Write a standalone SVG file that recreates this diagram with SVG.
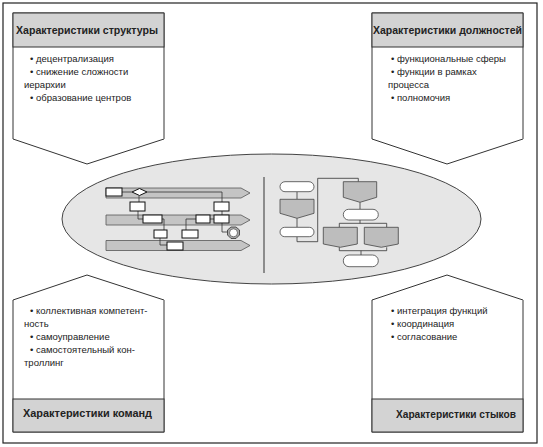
<svg xmlns="http://www.w3.org/2000/svg" width="543" height="447" viewBox="0 0 543 447">
<style>
.frame{fill:#fff;stroke:#222;stroke-width:1.2}
.box{fill:#fff;stroke:#333;stroke-width:1}
.edge{stroke:#9a9a9a;stroke-width:1.6;fill:none}
.hdr{fill:#d3d3d3;stroke:#333;stroke-width:1}
.ht{font-family:"Liberation Sans",Arial,sans-serif;font-weight:bold;font-size:10px;fill:#222}
.bt{font-family:"Liberation Sans",Arial,sans-serif;font-size:9.5px;fill:#222}
.ell{fill:#e6e6e6;stroke:#444;stroke-width:1}
.lane{fill:#c4c4c4;stroke:#555;stroke-width:0.8}
.sb{fill:#fff;stroke:#111;stroke-width:1}
.ln{fill:none;stroke:#333;stroke-width:0.8}
.rr{fill:#fff;stroke:#444;stroke-width:0.8}
.pg{fill:#bdbdbd;stroke:#444;stroke-width:0.8}
</style>
<rect class="frame" x="3" y="3" width="534" height="440"/>

<g id="center">
<ellipse class="ell" cx="271.5" cy="219" rx="209.5" ry="65"/>
<line x1="264" y1="177" x2="264" y2="273" stroke="#333" stroke-width="1"/>
<g id="swimlanes">
<polygon class="lane" points="106,188 241,188 250,193 241,198 106,198"/>
<polygon class="lane" points="106,215 241,215 250,220 241,225 106,225"/>
<polygon class="lane" points="106,240.5 241,240.5 250,245.5 241,250.5 106,250.5"/>
<g class="ln">
<path d="M122,192 H132"/>
<path d="M147,192 H222 V202"/>
<path d="M139,196 V202"/>
<path d="M138,211 V219 H143"/>
<path d="M162,219 H164 V230"/>
<path d="M160,238 V245 H167"/>
<path d="M222,211 V215"/>
<path d="M210,219 H214"/>
<path d="M222,223 V232 H228"/>
<path d="M186,230 V219 H196"/>
</g>
<rect class="sb" x="106" y="188" width="16" height="8"/>
<polygon class="sb" points="132,192 139.5,188.5 147,192 139.5,195.5"/>
<rect class="sb" x="130" y="202" width="15" height="9"/>
<rect class="sb" x="214" y="202" width="15" height="9"/>
<rect class="sb" x="143" y="215" width="19" height="8"/>
<rect class="sb" x="196" y="215" width="14" height="8"/>
<rect class="sb" x="214" y="215" width="15" height="8"/>
<rect class="sb" x="154" y="230" width="13" height="8"/>
<rect class="sb" x="182" y="230" width="16" height="8"/>
<rect class="sb" x="167" y="242" width="16" height="8"/>
<polygon points="231,227 236,227 239.5,230 239.5,235 236,238.5 231,238.5 227.5,235 227.5,230" fill="#aaa" stroke="#333" stroke-width="0.8"/>
<circle cx="233.5" cy="232.8" r="4" fill="#fff" stroke="#333" stroke-width="0.6"/>
</g>
<g id="flowchart">
<g class="ln">
<path d="M297,191.7 V199.3"/>
<path d="M297,218.3 V227.3"/>
<path d="M297,236.7 V241.7 H317.7 V178.3 H358.3 V181.7"/>
<path d="M360,202.3 V209.3"/>
<path d="M360,220 V223.3 M339.3,227.3 V223.3 H386.7 V227.3"/>
<path d="M339.3,247.3 V250.7 H386.7 V247.3 M361,250.7 V255"/>
</g>
<rect class="rr" x="280" y="181.7" width="34" height="10" rx="5"/>
<polygon class="pg" points="280,199.3 314,199.3 314,213.3 297,218.3 280,213.3"/>
<rect class="rr" x="280" y="227.3" width="34" height="9.4" rx="4.7"/>
<polygon class="pg" points="343.3,181.7 376.7,181.7 376.7,197.3 360,202.3 343.3,197.3"/>
<rect class="rr" x="343.3" y="209.3" width="35" height="10.7" rx="5.3"/>
<polygon class="pg" points="323.3,227.3 357.3,227.3 357.3,244 340.3,247.3 323.3,244"/>
<polygon class="pg" points="364.3,227.3 398.3,227.3 398.3,244 381.3,247.3 364.3,244"/>
<rect class="rr" x="343.3" y="255" width="35" height="11.7" rx="5.8"/>
</g>
</g>

<g id="structure">
<polygon class="box" points="13,13 164,13 164,139 87,164 13,139"/>
<line class="edge" x1="164" y1="47" x2="164" y2="139"/>
<rect class="hdr" x="13" y="13" width="151" height="34"/>
<text class="ht" x="16" y="34" textLength="142" lengthAdjust="spacingAndGlyphs">Характеристики структуры</text>
<text class="bt" x="30" y="61.5">• децентрализация</text>
<text class="bt" x="30" y="74.5">• снижение сложности</text>
<text class="bt" x="24" y="87.5">иерархии</text>
<text class="bt" x="30" y="100.5">• образование центров</text>
</g>

<g id="positions">
<polygon class="box" points="372,13 523,13 523,139 447,164 372,139"/>
<line class="edge" x1="523" y1="47" x2="523" y2="139"/>
<rect class="hdr" x="372" y="13" width="151" height="34"/>
<text class="ht" x="373" y="34" textLength="149" lengthAdjust="spacingAndGlyphs">Характеристики должностей</text>
<text class="bt" x="391" y="61.5">• функциональные сферы</text>
<text class="bt" x="391" y="74.5">• функции в рамках</text>
<text class="bt" x="388" y="87.5">процесса</text>
<text class="bt" x="391" y="100.5">• полномочия</text>
</g>

<g id="teams">
<polygon class="box" points="13,432 164,432 164,300 87,275 13,300"/>
<line class="edge" x1="164" y1="300" x2="164" y2="399"/>
<rect class="hdr" x="13" y="399" width="151" height="33"/>
<text class="ht" x="23" y="417" textLength="129" lengthAdjust="spacingAndGlyphs">Характеристики команд</text>
<text class="bt" x="30" y="313.5">• коллективная компетент-</text>
<text class="bt" x="24" y="326.5">ность</text>
<text class="bt" x="30" y="339.5">• самоуправление</text>
<text class="bt" x="30" y="352.5">• самостоятельный кон-</text>
<text class="bt" x="24" y="365.5">троллинг</text>
</g>

<g id="interfaces">
<polygon class="box" points="372,432 523,432 523,300 447,275 372,300"/>
<line class="edge" x1="523" y1="300" x2="523" y2="399"/>
<rect class="hdr" x="372" y="399" width="151" height="33"/>
<text class="ht" x="396" y="417.5" textLength="120" lengthAdjust="spacingAndGlyphs">Характеристики стыков</text>
<text class="bt" x="391" y="313.5">• интеграция функций</text>
<text class="bt" x="391" y="326.5">• координация</text>
<text class="bt" x="391" y="339.5">• согласование</text>
</g>
</svg>
